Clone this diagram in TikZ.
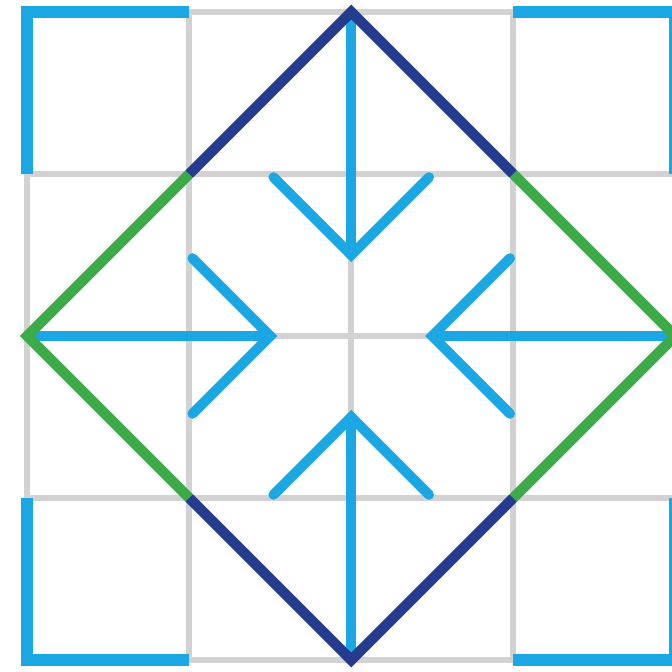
\documentclass[tikz,border=0pt]{standalone}
\usepackage{tikz}
\usepackage{xcolor}
\usetikzlibrary{arrows.meta,positioning}

\definecolor{skyblue}{HTML}{1AA7E3}
\definecolor{navyblue}{HTML}{253B8E}
\definecolor{leafgreen}{HTML}{3DAA4A}
\definecolor{gridgray}{HTML}{D2D2D2}

\begin{document}
\begin{tikzpicture}[
    x=2.5cm, y=2.5cm,
    gridline/.style={draw=gridgray, line width=2.8pt},
    corner/.style={draw=skyblue, line width=5.2pt},
    edgeblue/.style={draw=navyblue, line width=4.6pt},
    edgegreen/.style={draw=leafgreen, line width=4.6pt},
    inarrow/.style={draw=skyblue, line width=4.4pt, line cap=round, line join=miter}
]
\useasboundingbox (-0.168,-0.074) rectangle (3.98,4.074);

% grid
\foreach \i in {0,...,4} {
    \draw[gridline] (\i,0) -- (\i,4);
    \draw[gridline] (0,\i) -- (4,\i);
}

% corners
\draw[corner] (0,3) -- (0,4) -- (1,4);
\draw[corner] (3,4) -- (4,4) -- (4,3);
\draw[corner] (0,1) -- (0,0) -- (1,0);
\draw[corner] (3,0) -- (4,0) -- (4,1);

% arrows pointing in
\foreach \a in {0,90,180,270} {
    \begin{scope}[rotate around={\a:(2,2)}]
        \draw[inarrow] (2,4) -- (2,2.5);
        \draw[inarrow] (1.52,2.98) -- (2,2.5) -- (2.48,2.98);
    \end{scope}
}

% diamond
\coordinate (top) at (2,4);
\coordinate (right) at (4,2);
\coordinate (bottom) at (2,0);
\coordinate (left) at (0,2);
\draw[edgegreen] (1,3) -- (left) -- (1,1);
\draw[edgegreen] (3,3) -- (right) -- (3,1);
\draw[edgeblue] (1,3) -- (top) -- (3,3);
\draw[edgeblue] (1,1) -- (bottom) -- (3,1);

\end{tikzpicture}
\end{document}
